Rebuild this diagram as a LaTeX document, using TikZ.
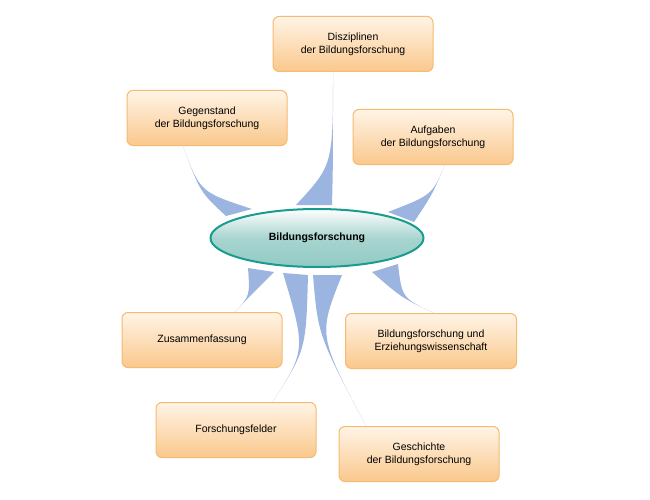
\documentclass[tikz,border=0pt]{standalone}
\usepackage{fontspec}
\setmainfont{Liberation Sans}
\usetikzlibrary{shapes.geometric}

\definecolor{boxborder}{RGB}{246,186,112}
\definecolor{boxdark}{RGB}{250,200,140}
\definecolor{boxlight}{RGB}{255,244,230}
\definecolor{branchblue}{RGB}{155,180,224}
\definecolor{tealedge}{RGB}{24,156,142}
\definecolor{tealfill}{RGB}{146,202,196}

\tikzset{
  topic/.style={draw=boxborder, line width=1pt, rounded corners=6pt,
    top color=boxlight, bottom color=boxdark, minimum width=160pt,
    minimum height=55pt, align=center, font=\fontsize{10.5}{13}\selectfont},
  hub/.style={ellipse, draw=tealedge, line width=2pt, top color=white,
    bottom color=tealfill, middle color=tealfill!80, minimum width=213pt,
    minimum height=58pt, font=\bfseries\fontsize{10.5}{13}\selectfont},
  branch/.style={fill=branchblue}
}

% tapered connector: base a, base b, control, tip
\newcommand{\branchto}[4]{\fill[branch] (#1) .. controls (#3) .. (#4) .. controls (#3) .. (#2) -- cycle;}

\begin{document}
\begin{tikzpicture}[x=1pt, y=-1pt]
  \useasboundingbox (0,0) rectangle (650,500);

  \node[topic] (disziplinen) at (353,44) {Disziplinen\\der Bildungsforschung};
  \node[topic] (gegenstand) at (207,118) {Gegenstand\\der Bildungsforschung};
  \node[topic] (aufgaben) at (433,137) {Aufgaben\\der Bildungsforschung};
  \node[topic] (zusammen) at (202,340) {Zusammenfassung};
  \node[topic, minimum width=171pt] (erziehung) at (431,341) {Bildungsforschung und\\Erziehungswissenschaft};
  \node[topic] (felder) at (236,430) {Forschungsfelder};
  \node[topic] (geschichte) at (419,454) {Geschichte\\der Bildungsforschung};

  \coordinate (t_gegen) at (183,146);
  \coordinate (t_diszi) at (333,72);
  \coordinate (t_aufg) at (445,165);
  \coordinate (t_zus) at (234,313);
  \coordinate (t_erz) at (434,313);
  \coordinate (t_feld) at (272,403);
  \coordinate (t_gesch) at (366,426);

  \branchto{226,216}{252,209}{200,192}{t_gegen}
  \branchto{296,205}{332,205}{333,165}{t_diszi}
  \branchto{388,212}{414,222}{432,195}{t_aufg}
  \branchto{248,268}{274,272}{250,296}{t_zus}
  \branchto{372,272}{398,264}{402,298}{t_erz}
  \branchto{283,273}{308,275}{306,350}{t_feld}
  \branchto{313,275}{342,275}{318,335}{t_gesch}

  \node[hub] (hub) at (317,238) {Bildungsforschung};
\end{tikzpicture}
\end{document}
